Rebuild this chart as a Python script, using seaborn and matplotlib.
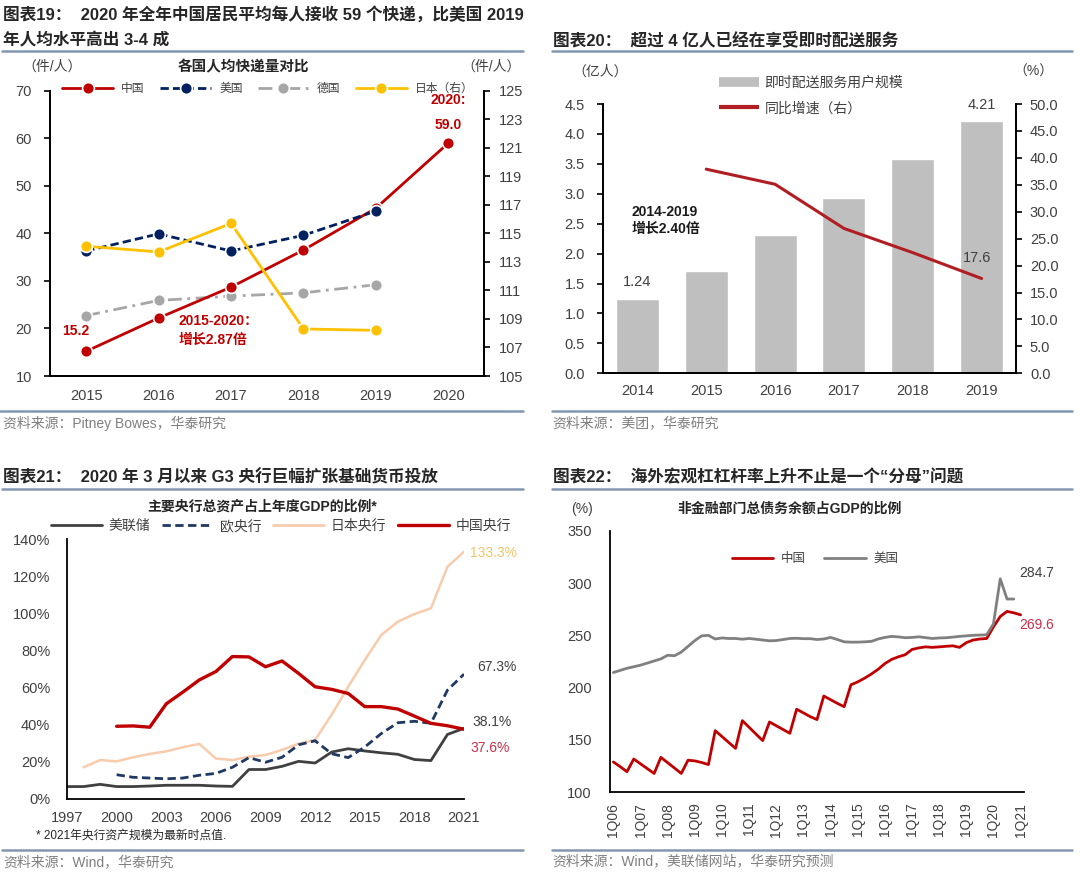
import numpy as np
import matplotlib
matplotlib.use("Agg")
import matplotlib.pyplot as plt
import seaborn as sns
from matplotlib.lines import Line2D

# ---------------- data ----------------
# 图表19: per-capita parcels
years19 = ["2015", "2016", "2017", "2018", "2019", "2020"]
china19 = [15.2, 22.2, 28.7, 36.5, 45.3, 59.0]
us19 = [36.3, 39.9, 36.3, 39.6, 44.7]
germany19 = [22.7, 25.9, 26.8, 27.5, 29.2]
japan19 = [114.1, 113.7, 115.7, 108.3, 108.2]

# 图表20: instant delivery users
years20 = ["2014", "2015", "2016", "2017", "2018", "2019"]
users20 = [1.24, 1.71, 2.31, 2.93, 3.58, 4.21]
growth20 = [37.9, 35.1, 26.9, 22.4, 17.6]  # 2015-2019

# 图表21: central bank assets / GDP (%)
years21 = list(range(1997, 2022))
fed21 = [6.7, 6.7, 7.9, 6.7, 6.7, 7.0, 7.4, 7.4, 7.4, 7.0, 6.8, 15.9, 15.9,
         17.6, 20.3, 19.4, 25.3, 27.1, 25.9, 24.9, 24.1, 21.3, 20.7, 34.8, 38.1]
ecb21 = [13.1, 11.7, 11.3, 10.9, 11.3, 12.8, 13.8, 17.1, 22.3, 19.8, 22.5,
         29.2, 31.4, 24.4, 22.3, 28.0, 35.3, 41.1, 41.9, 40.8, 58.7, 67.3]  # 2000-
boj21 = [17.1, 21.0, 20.3, 22.5, 24.3, 25.7, 27.9, 29.7, 21.8, 21.0, 22.8, 23.7,
         26.5, 29.8, 31.8, 45.5, 60.5, 74.9, 88.4, 95.6, 99.7, 102.8, 125.2, 133.3]  # 1998-
pboc21 = [39.2, 39.4, 38.7, 51.3, 57.6, 64.2, 68.7, 76.8, 76.6, 71.3, 74.4,
          67.7, 60.5, 59.1, 56.9, 49.8, 49.8, 48.5, 44.7, 40.8, 39.5, 37.6]  # 2000-

# 图表22: non-financial debt / GDP, quarterly from 1Q06
quarter_labels = [f"1Q{y:02d}" for y in range(6, 22)]
china22 = [129.0, 124.5, 119.7, 131.8, 127.2, 122.6, 118.0, 133.4, 128.3, 123.2,
           118.0, 130.7, 130.0, 128.5, 126.5, 158.9, 153.3, 147.6, 142.0, 168.5,
           162.1, 155.7, 149.4, 167.2, 163.6, 160.0, 156.4, 179.4, 175.9, 172.3,
           169.5, 192.0, 188.5, 185.0, 181.8, 202.7, 205.5, 209.0, 213.0, 217.5,
           223.0, 227.0, 229.5, 231.5, 236.5, 238.0, 239.0, 238.5, 239.0, 239.5,
           240.0, 238.5, 243.0, 245.5, 246.5, 247.0, 258.0, 268.0, 272.9, 271.5, 269.6]
us22 = [214.5, 216.5, 218.5, 220.0, 221.5, 223.5, 225.5, 227.5, 231.0, 230.5,
        234.0, 239.5, 245.0, 249.5, 250.0, 246.5, 247.5, 247.0, 247.0, 246.3,
        247.0, 246.3, 245.5, 244.8, 245.0, 246.0, 247.0, 247.2, 246.8, 246.8,
        246.0, 246.5, 248.0, 246.0, 243.8, 243.5, 243.5, 243.8, 244.2, 246.5,
        248.0, 249.0, 248.5, 247.7, 248.0, 248.6, 247.8, 247.0, 247.5, 247.7,
        248.3, 249.0, 249.5, 250.0, 250.3, 250.5, 261.0, 304.0, 284.7, 284.7]

# ---------------- style ----------------
sns.set_style("white")
plt.rcParams["font.family"] = ["Liberation Sans", "Noto Sans CJK SC"]
plt.rcParams["axes.unicode_minus"] = False

RED = "#C00000"
NAVY = "#002060"
GRAY = "#A6A6A6"
GOLD = "#FFC000"
TICK = "#404040"
RULE = "#8497B0"
SRC = "#7F7F7F"

W, H = 1080, 873
fig = plt.figure(figsize=(W / 100, H / 100), dpi=100)


def px_rect(x0, y0, x1, y1):
    """Axes rect from pixel box (top-left origin)."""
    return [x0 / W, 1 - y1 / H, (x1 - x0) / W, (y1 - y0) / H]


def ftext(x, y, s, **kw):
    kw.setdefault("va", "center")
    fig.text(x / W, 1 - y / H, s, **kw)


def rule(x0, x1, y):
    fig.add_artist(Line2D([x0 / W, x1 / W], [1 - y / H, 1 - y / H],
                          transform=fig.transFigure, color=RULE, lw=1.8))


def style_axis(ax, labelsize=10.5):
    for s in ax.spines.values():
        s.set_color("black")
        s.set_linewidth(1.3)
    ax.tick_params(which="major", direction="out", length=4, width=1.2,
                   color="black", labelcolor=TICK, labelsize=labelsize)


def category_ticks(ax, labels, pad):
    n = len(labels)
    ax.set_xticks(np.arange(-0.5, n, 1))
    ax.set_xticklabels([])
    ax.set_xticks(np.arange(n), minor=True)
    ax.set_xticklabels(labels, minor=True)
    ax.tick_params(axis="x", which="minor", length=0, pad=pad,
                   labelcolor=TICK, labelsize=10.5)
    ax.set_xlim(-0.5, n - 0.5)


# ---------------- 图表19 ----------------
ftext(3, 14, "图表19：  2020 年全年中国居民平均每人接收 59 个快递，比美国 2019",
      fontsize=12, fontweight="bold")
ftext(3, 40, "年人均水平高出 3-4 成", fontsize=12, fontweight="bold")
rule(2, 523, 51)

ax1 = fig.add_axes(px_rect(50, 90.8, 484.5, 376))
x19 = np.arange(len(years19))
mk = dict(marker="o", markersize=8.5, markeredgecolor="white", markeredgewidth=1.2)
sns.lineplot(x=x19[:5], y=germany19, ax=ax1, color=GRAY, lw=2,
             linestyle=(0, (5, 2, 1, 2)), **mk)
sns.lineplot(x=x19, y=china19, ax=ax1, color=RED, lw=2, **mk)
sns.lineplot(x=x19[:5], y=us19, ax=ax1, color=NAVY, lw=2,
             linestyle=(0, (3, 1.5)), **mk)
ax1r = ax1.twinx()
sns.lineplot(x=x19[:5], y=japan19, ax=ax1r, color=GOLD, lw=2, **mk)

ax1.set_ylim(10, 70)
ax1.set_yticks(range(10, 71, 10))
ax1r.set_ylim(105, 125)
ax1r.set_yticks(range(105, 126, 2))
for a in (ax1, ax1r):
    style_axis(a)
    a.spines["top"].set_visible(False)
    a.set_ylabel("")
    a.set_xlabel("")
ax1.tick_params(axis="y", pad=9)
ax1r.tick_params(axis="y", pad=6)
category_ticks(ax1, years19, pad=9)

ax1.text(5, 68.0, "2020:", color=RED, fontsize=10, fontweight="bold", ha="center", va="center")
ax1.text(5, 62.8, "59.0", color=RED, fontsize=10, fontweight="bold", ha="center", va="center")
ax1.text(-0.14, 19.5, "15.2", color=RED, fontsize=10, fontweight="bold", ha="center", va="center")
ax1.text(1.28, 21.6, "2015-2020：", color=RED, fontsize=10, fontweight="bold", ha="left", va="center")
ax1.text(1.28, 17.6, "增长2.87倍", color=RED, fontsize=10, fontweight="bold", ha="left", va="center")

ftext(52, 67, "（件/人）", fontsize=10, color=TICK, ha="center")
ftext(243, 67, "各国人均快递量对比", fontsize=10.5, fontweight="bold", color="#262626", ha="center")
ftext(491, 67, "（件/人）", fontsize=10, color=TICK, ha="center")

h19 = [Line2D([], [], color=RED, lw=2, **mk),
       Line2D([], [], color=NAVY, lw=2, linestyle=(0, (3, 1.5)), **mk),
       Line2D([], [], color=GRAY, lw=2, linestyle=(0, (5, 2, 1, 2)), **mk),
       Line2D([], [], color=GOLD, lw=2, **mk)]
fig.legend(h19, ["中国", "美国", "德国", "日本（右）"], loc="center",
           bbox_to_anchor=(268 / W, 1 - 89 / H), ncol=4, frameon=False,
           fontsize=8.5, handlelength=4.3, handletextpad=0.7, columnspacing=1.3,
           borderpad=0.1, labelcolor=TICK)

rule(0, 523, 411)
ftext(3, 423, "资料来源：Pitney Bowes，华泰研究", fontsize=10, color=SRC)

# ---------------- 图表20 ----------------
ftext(553, 40, "图表20：  超过 4 亿人已经在享受即时配送服务", fontsize=12, fontweight="bold")
rule(552, 1072, 51)

ax2 = fig.add_axes(px_rect(603, 104, 1016, 373.3))
sns.barplot(x=years20, y=users20, ax=ax2, color="#BFBFBF", saturation=1, width=0.625)
ax2r = ax2.twinx()
sns.lineplot(x=np.arange(1, 6), y=growth20, ax=ax2r, color="#B01E23", lw=2.2)
ax2.set_ylim(0, 4.5)
ax2.set_yticks(np.arange(0, 4.51, 0.5))
ax2.set_yticklabels([f"{v:.1f}" for v in np.arange(0, 4.51, 0.5)])
ax2r.set_ylim(0, 50)
ax2r.set_yticks(np.arange(0, 50.1, 5))
ax2r.set_yticklabels([f"{v:.1f}" for v in np.arange(0, 50.1, 5)])
for a in (ax2, ax2r):
    style_axis(a)
    a.spines["top"].set_visible(False)
    a.set_ylabel("")
    a.set_xlabel("")
ax2.tick_params(axis="y", pad=9)
ax2r.tick_params(axis="y", pad=6)
category_ticks(ax2, years20, pad=8)

ax2.text(0, 1.53, "1.24", fontsize=10.5, color=TICK, ha="center", va="center")
ax2.text(5, 4.48, "4.21", fontsize=10.5, color=TICK, ha="center", va="center")
ax2r.text(4.93, 21.35, "17.6", fontsize=10.5, color=TICK, ha="center", va="center")
ax2.text(-0.08, 2.70, "2014-2019", fontsize=10, fontweight="bold", color="#1a1a1a", va="center")
ax2.text(-0.08, 2.41, "增长2.40倍", fontsize=10, fontweight="bold", color="#1a1a1a", va="center")

ftext(600, 72, "（亿人）", fontsize=10, color=TICK, ha="center")
ftext(1033, 72, "（%）", fontsize=10, color=TICK, ha="center")
fig.legend([Line2D([], [], color="#BFBFBF", lw=7, solid_capstyle="butt"),
            Line2D([], [], color="#B01E23", lw=3, solid_capstyle="butt")],
           ["即时配送服务用户规模", "同比增速（右）"], loc="upper left",
           bbox_to_anchor=(706 / W, 1 - 63 / H), frameon=False, fontsize=10,
           handlelength=2.9, handletextpad=0.4, labelspacing=0.85, labelcolor=TICK)

rule(552, 1072, 411)
ftext(552, 423, "资料来源：美团，华泰研究", fontsize=10, color=SRC)

# ---------------- 图表21 ----------------
ftext(3, 477, "图表21：  2020 年 3 月以来 G3 央行巨幅扩张基础货币投放", fontsize=12, fontweight="bold")
rule(2, 523, 489)

ax3 = fig.add_axes(px_rect(67, 539.3, 464, 799))
sns.lineplot(x=years21[1:], y=boj21, ax=ax3, color="#F8CBAD", lw=1.8)
sns.lineplot(x=years21, y=fed21, ax=ax3, color="#404040", lw=2)
sns.lineplot(x=years21[3:], y=ecb21, ax=ax3, color="#1F3864", lw=2,
             linestyle=(0, (3, 1.6)))
sns.lineplot(x=years21[3:], y=pboc21, ax=ax3, color=RED, lw=2.4)
ax3.set_xlim(1997, 2021)
ax3.set_ylim(0, 140)
ax3.set_xticks(range(1997, 2022, 3))
ax3.set_yticks(range(0, 141, 20))
ax3.set_yticklabels([f"{v}%" for v in range(0, 141, 20)])
style_axis(ax3)
ax3.spines["top"].set_visible(False)
ax3.spines["right"].set_visible(False)
ax3.tick_params(axis="x", pad=5)
ax3.tick_params(axis="y", pad=8)
ax3.set_xlabel("")
ax3.set_ylabel("")
ax3.text(2021.37, 132.5, "133.3%", fontsize=10, color="#F6C46A", va="center")
ax3.text(2021.8, 71.3, "67.3%", fontsize=10, color=TICK, va="center")
ax3.text(2021.5, 41.7, "38.1%", fontsize=10, color=TICK, va="center")
ax3.text(2021.4, 27.3, "37.6%", fontsize=10, color="#C8304A", va="center")

ftext(262, 507, "主要央行总资产占上年度GDP的比例*", fontsize=10, fontweight="bold",
      color="#262626", ha="center")
fig.legend([Line2D([], [], color="#404040", lw=2),
            Line2D([], [], color="#1F3864", lw=2, linestyle=(0, (3, 1.6))),
            Line2D([], [], color="#F8CBAD", lw=2),
            Line2D([], [], color=RED, lw=2.4)],
           ["美联储", "欧央行", "日本央行", "中国央行"], loc="center",
           bbox_to_anchor=(281 / W, 1 - 526 / H), ncol=4, frameon=False,
           fontsize=10, handlelength=3.7, handletextpad=0.5, columnspacing=0.8,
           labelcolor=TICK)
ftext(36, 836, "* 2021年央行资产规模为最新时点值.", fontsize=8.5, color="#262626")
rule(2, 523, 850)
ftext(3, 862, "资料来源：Wind，华泰研究", fontsize=10, color=SRC)

# ---------------- 图表22 ----------------
ftext(553, 477, "图表22：  海外宏观杠杠杆率上升不止是一个“分母”问题", fontsize=12, fontweight="bold")
rule(552, 1072, 489)

ax4 = fig.add_axes(px_rect(610, 530.7, 1024, 792.3))
q22 = np.arange(len(china22))
sns.lineplot(x=q22, y=china22, ax=ax4, color=RED, lw=2)
sns.lineplot(x=q22[:len(us22)], y=us22, ax=ax4, color="#808080", lw=2)
ax4.set_ylim(100, 350)
ax4.set_yticks(range(100, 351, 50))
style_axis(ax4)
ax4.spines["top"].set_visible(False)
ax4.spines["right"].set_visible(False)
ax4.set_xticks(np.arange(-0.5, 61, 4))
ax4.set_xticklabels([])
ax4.set_xticks(np.arange(0, 61, 4), minor=True)
ax4.set_xticklabels(quarter_labels, minor=True, rotation=90)
ax4.tick_params(axis="x", which="minor", length=0, pad=7.5, labelcolor=TICK, labelsize=10)
ax4.tick_params(axis="y", pad=9)
ax4.set_xlim(-0.5, 60.5)
ax4.set_xlabel("")
ax4.set_ylabel("")
ax4.text(62.3, 309.9, "284.7", fontsize=10, color=TICK, ha="center", va="center")
ax4.text(62.3, 259.9, "269.6", fontsize=10, color="#C8304A", ha="center", va="center")

ftext(582, 509, "(%)", fontsize=10, color=TICK, ha="center")
ftext(790, 509, "非金融部门总债务余额占GDP的比例", fontsize=10, fontweight="bold",
      color="#262626", ha="center")
fig.legend([Line2D([], [], color=RED, lw=2), Line2D([], [], color="#808080", lw=2)],
           ["中国", "美国"], loc="center", bbox_to_anchor=(815 / W, 1 - 559 / H),
           ncol=2, frameon=False, fontsize=9, handlelength=3.3, handletextpad=0.6,
           columnspacing=1.5, labelcolor=TICK)
rule(552, 1072, 850)
ftext(552, 861, "资料来源：Wind，美联储网站，华泰研究预测", fontsize=10, color=SRC)

fig.savefig("out.png", dpi=100)
